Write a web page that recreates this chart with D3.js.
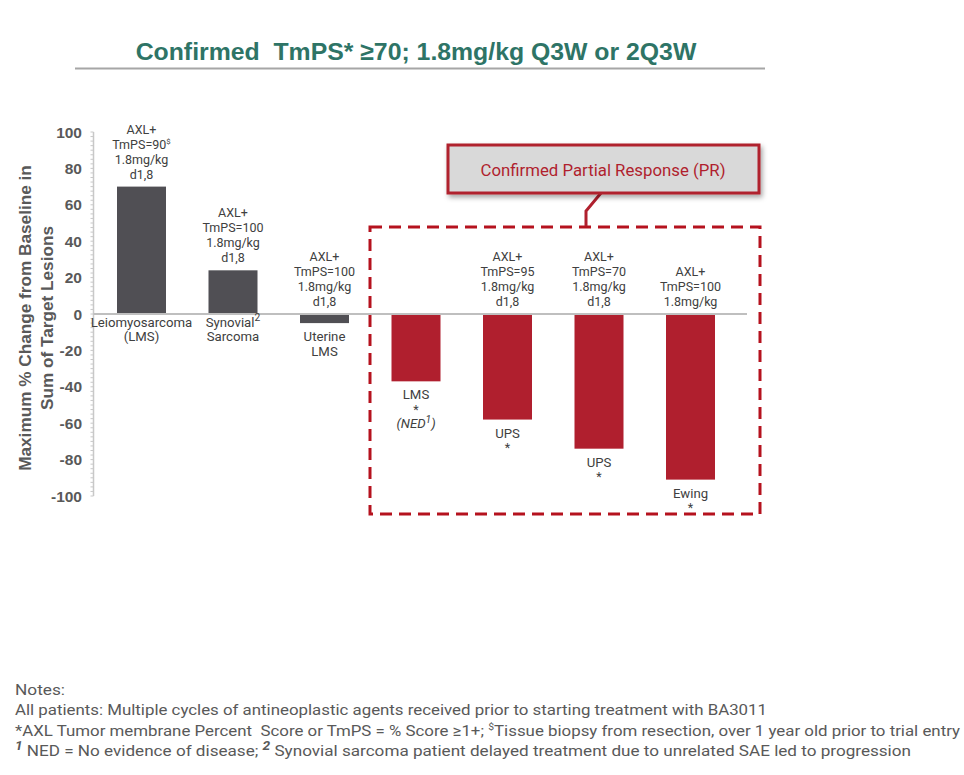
<!DOCTYPE html>
<html><head><meta charset="utf-8">
<script src="https://cdn.jsdelivr.net/npm/d3@7"></script>
<style>body{margin:0;background:#fff;} svg{display:block}</style>
</head><body>
<svg id="c" width="964" height="775"></svg>
<script>
// ---------------- DATA ----------------
const categories = ["Leiomyosarcoma (LMS)", "Synovial Sarcoma", "Uterine LMS", "LMS", "UPS (a)", "UPS (b)", "Ewing"];
const values = [70, 24, -5, -37, -58, -74, -91];
const confirmedPR = [false, false, false, true, true, true, true];
const annotations = [
  ["AXL+", "TmPS=90^{$}", "1.8mg/kg", "d1,8"],
  ["AXL+", "TmPS=100", "1.8mg/kg", "d1,8"],
  ["AXL+", "TmPS=100", "1.8mg/kg", "d1,8"],
  [],
  ["AXL+", "TmPS=95", "1.8mg/kg", "d1,8"],
  ["AXL+", "TmPS=70", "1.8mg/kg", "d1,8"],
  ["AXL+", "TmPS=100", "1.8mg/kg"]
];
const belowLabels = [
  ["Leiomyosarcoma", "(LMS)"],
  ["Synovial^{2}", "Sarcoma"],
  ["Uterine", "LMS"],
  ["LMS", "*", "_(NED^{1})"],
  ["UPS", "*"],
  ["UPS", "*"],
  ["Ewing", "*"]
];
const yTicks = [100, 80, 60, 40, 20, 0, -20, -40, -60, -80, -100];
const yLabelLines = ["Maximum % Change from Baseline in", "Sum of Target Lesions"];
const titleText = "Confirmed\u00a0 TmPS* \u226570; 1.8mg/kg Q3W or 2Q3W";
const calloutText = "Confirmed Partial Response (PR)";
const notes = [
  "Notes:",
  "All patients: Multiple cycles of antineoplastic agents received prior to starting treatment with BA3011",
  "*AXL Tumor membrane Percent\u00a0 Score or TmPS = % Score \u22651+; ^{$}Tissue biopsy from resection, over 1 year old prior to trial entry",
  "^{1} NED = No evidence of disease; ^{2} Synovial sarcoma patient delayed treatment due to unrelated SAE led to progression"
];
const noteWidths = [50, 752, 945, 896];

// ---------------- STYLE ----------------
const GREY_BAR = "#504f54", RED_BAR = "#b01f2e", BOX_RED = "#b5121e";
const TXT = "#404040", AXIS_TXT = "#595959";

const svg = d3.select("#c");
const x = d3.scaleBand().domain(categories).range([117, 715]).paddingInner(0.4645).paddingOuter(0);
const y = d3.scaleLinear().domain([-100, 100]).range([496, 132]);

function rich(textSel, str, fs, boldSup, supScale) {
  let s = str, italic = false;
  if (s.startsWith("_")) { italic = true; s = s.slice(1); }
  if (italic) textSel.attr("font-style", "italic");
  const parts = s.split(/(\^\{[^}]*\})/).filter(p => p.length);
  let raised = 0;
  parts.forEach(p => {
    const t = textSel.append("tspan");
    if (p.startsWith("^{")) {
      const rise = fs * 0.38;
      t.text(p.slice(2, -1)).attr("font-size", fs * (supScale || (boldSup ? 0.8 : 0.62))).attr("dy", -rise);
      if (boldSup) t.attr("font-weight", "bold").attr("font-style", "italic");
      raised = rise;
    } else {
      t.text(p);
      if (raised) { t.attr("dy", raised); raised = 0; }
    }
  });
}

// Title
svg.append("text").attr("x", 416).attr("y", 60).attr("text-anchor", "middle")
  .attr("font-family", "Liberation Sans, Arial, sans-serif").attr("font-weight", "bold")
  .attr("font-size", 24.8).attr("fill", "#2e7466").text(titleText);
svg.append("line").attr("x1", 75).attr("x2", 765).attr("y1", 68.5).attr("y2", 68.5)
  .attr("stroke", "#a6a6a6").attr("stroke-width", 2);

// Y axis
const axisX = 93.5;
svg.append("line").attr("x1", axisX).attr("x2", axisX).attr("y1", y(100)).attr("y2", y(-100))
  .attr("stroke", "#c8c8c8").attr("stroke-width", 1.5);
const minor = d3.range(-100, 100.01, 2.5);
svg.append("g").selectAll("line").data(minor).join("line")
  .attr("x1", axisX - 3).attr("x2", axisX).attr("y1", d => y(d)).attr("y2", d => y(d))
  .attr("stroke", "#c8c8c8").attr("stroke-width", 1);
svg.append("g").selectAll("text").data(yTicks).join("text")
  .attr("x", 82).attr("y", d => y(d) + 5.5).attr("text-anchor", "end")
  .attr("font-family", "Liberation Sans, Arial, sans-serif").attr("font-weight", "bold")
  .attr("font-size", 15.5).attr("fill", AXIS_TXT).text(d => d);

// Y label
const yl = svg.append("g").attr("transform", "translate(0,318) rotate(-90)");
yLabelLines.forEach((l, i) => {
  yl.append("text").attr("x", 0).attr("y", 31 + i * 22).attr("text-anchor", "middle")
    .attr("font-family", "Liberation Sans, Arial, sans-serif").attr("font-weight", "bold")
    .attr("font-size", 17.2).attr("fill", AXIS_TXT).text(l);
});

// Bars
svg.append("g").selectAll("rect").data(categories).join("rect")
  .attr("x", d => x(d)).attr("width", x.bandwidth())
  .attr("y", (d, i) => y(Math.max(0, values[i])))
  .attr("height", (d, i) => Math.abs(y(values[i]) - y(0)))
  .attr("fill", (d, i) => confirmedPR[i] ? RED_BAR : GREY_BAR);

// Zero line
svg.append("line").attr("x1", axisX).attr("x2", 747).attr("y1", y(0)).attr("y2", y(0))
  .attr("stroke", "#bfbfbf").attr("stroke-width", 2);

// Annotations above / labels below
const FS = 12.5, FS2 = 13.2;
categories.forEach((c, i) => {
  const cx = x(c) + x.bandwidth() / 2;
  const top = y(Math.max(0, values[i]));
  const lines = annotations[i];
  lines.forEach((l, j) => {
    const t = svg.append("text").attr("x", cx).attr("y", top - 8 - (lines.length - 1 - j) * 15)
      .attr("text-anchor", "middle").attr("font-family", "Roboto, sans-serif")
      .attr("font-size", FS).attr("fill", TXT);
    rich(t, l, FS, false);
  });
  const bot = y(Math.min(0, values[i]));
  const off = values[i] >= 0 ? 12.5 : 18;
  belowLabels[i].forEach((l, j) => {
    const t = svg.append("text").attr("x", cx).attr("y", bot + off + j * 14.5)
      .attr("text-anchor", "middle").attr("font-family", "Roboto, sans-serif")
      .attr("font-size", l === "*" ? FS : FS2).attr("fill", TXT);
    rich(t, l, FS2, false, 0.78);
  });
});

// Dashed PR box
svg.append("rect").attr("x", 370).attr("y", 227).attr("width", 390).attr("height", 287)
  .attr("fill", "none").attr("stroke", BOX_RED).attr("stroke-width", 3)
  .attr("stroke-dasharray", "12,7");

// Callout
const defs = svg.append("defs");
const f = defs.append("filter").attr("id", "sh").attr("x", "-10%").attr("y", "-20%").attr("width", "130%").attr("height", "160%");
f.append("feDropShadow").attr("dx", 2).attr("dy", 3).attr("stdDeviation", 2.5).attr("flood-color", "#000").attr("flood-opacity", 0.35);
svg.append("path").attr("d", "M601,193 L586,211 L586,226").attr("fill", "none")
  .attr("stroke", "#b0202e").attr("stroke-width", 3);
svg.append("rect").attr("x", 448).attr("y", 145).attr("width", 311).attr("height", 48)
  .attr("fill", "#d9d9d9").attr("stroke", "#b0202e").attr("stroke-width", 3).attr("filter", "url(#sh)");
svg.append("text").attr("x", 603).attr("y", 176).attr("text-anchor", "middle")
  .attr("font-family", "Roboto, sans-serif").attr("font-size", 16.8).attr("fill", "#b01f2e").text(calloutText);

// Notes
notes.forEach((n, i) => {
  const t = svg.append("text").attr("x", 15).attr("y", [695, 715, 736, 756][i])
    .attr("font-family", "Roboto, sans-serif").attr("font-size", 15.5).attr("fill", "#595959")
    .attr("textLength", noteWidths[i]).attr("lengthAdjust", "spacingAndGlyphs");
  rich(t, n, 15.5, i === 3);
});
</script>
</body></html>
